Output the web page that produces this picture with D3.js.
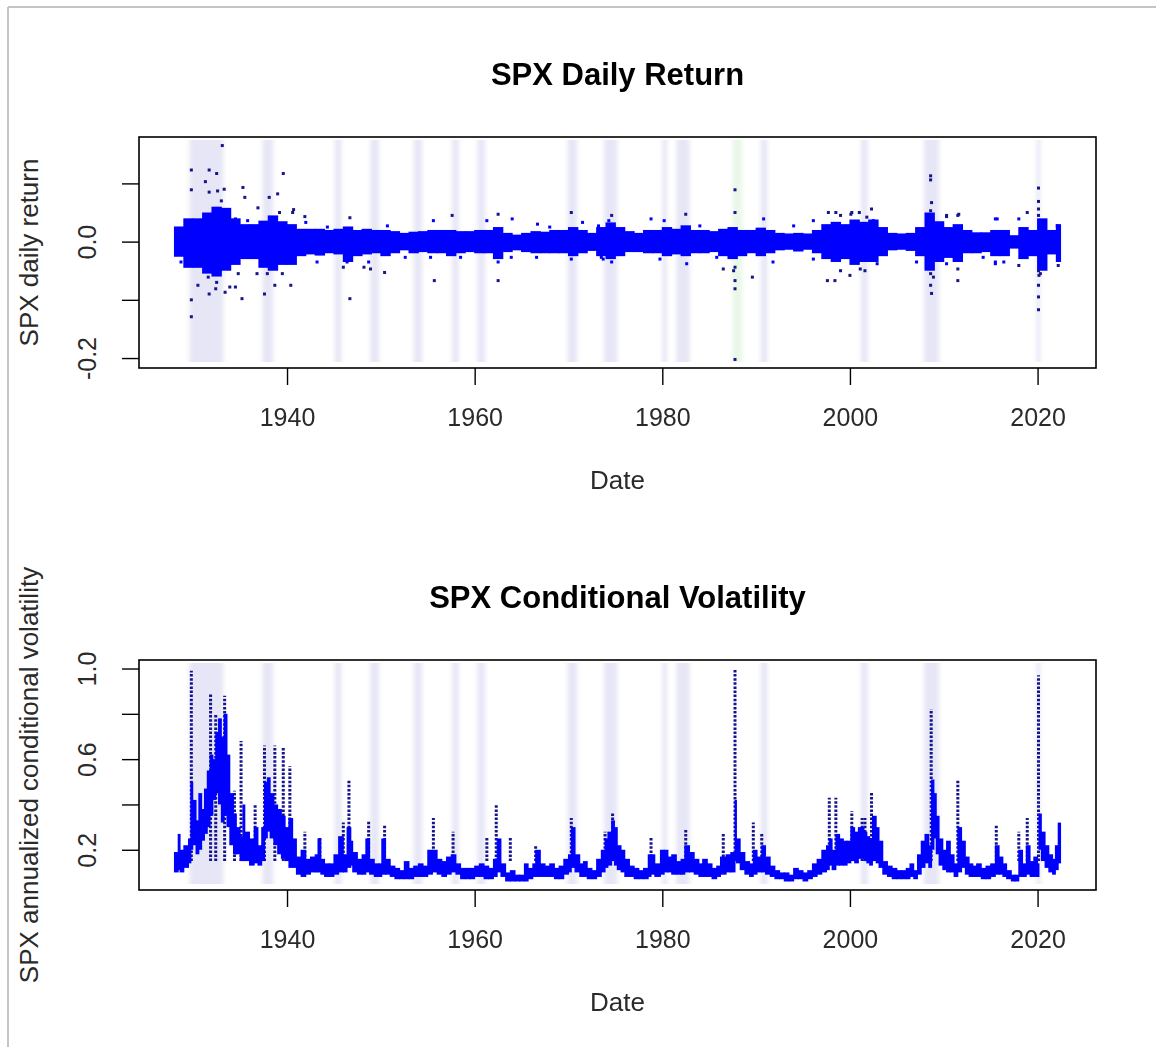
<!DOCTYPE html>
<html><head><meta charset="utf-8">
<script src="https://cdn.jsdelivr.net/npm/d3@7"></script>
<style>
body{margin:0;background:#fff}
svg{display:block}
text{font-family:"Liberation Sans",Arial,Helvetica,sans-serif}
</style>
</head><body>
<svg id="chart" width="1156" height="1047"></svg>
<script>
// ---------- DATA ----------
const recessionStart = [1929.6,1937.4,1945.1,1948.9,1953.5,1957.6,1960.3,1969.9,1973.8,1980.0,1981.5,1990.5,2001.2,2007.9,2019.9];
const recessionEnd   = [1933.2,1938.5,1945.8,1949.8,1954.4,1958.3,1961.1,1970.9,1975.2,1980.5,1982.9,1991.2,2001.9,2009.5,2020.3];
const crashStart = [1987.5];
const crashEnd   = [1988.5];

// daily return: yearly dense core envelope
const retYear = [1928,1929,1930,1931,1932,1933,1934,1935,1936,1937,1938,1939,1940,1941,1942,1943,1944,1945,1946,1947,1948,1949,1950,1951,1952,1953,1954,1955,1956,1957,1958,1959,1960,1961,1962,1963,1964,1965,1966,1967,1968,1969,1970,1971,1972,1973,1974,1975,1976,1977,1978,1979,1980,1981,1982,1983,1984,1985,1986,1987,1988,1989,1990,1991,1992,1993,1994,1995,1996,1997,1998,1999,2000,2001,2002,2003,2004,2005,2006,2007,2008,2009,2010,2011,2012,2013,2014,2015,2016,2017,2018,2019,2020,2021,2022];
const retHigh = [0.026,0.040,0.040,0.050,0.060,0.058,0.040,0.030,0.030,0.036,0.045,0.035,0.030,0.022,0.022,0.022,0.020,0.022,0.026,0.020,0.022,0.020,0.020,0.018,0.015,0.017,0.018,0.020,0.020,0.020,0.018,0.018,0.020,0.020,0.025,0.015,0.012,0.015,0.018,0.017,0.020,0.020,0.025,0.020,0.015,0.025,0.033,0.025,0.018,0.015,0.020,0.020,0.025,0.022,0.028,0.020,0.020,0.018,0.022,0.025,0.020,0.020,0.024,0.020,0.015,0.014,0.015,0.014,0.020,0.030,0.034,0.030,0.038,0.034,0.038,0.025,0.015,0.014,0.015,0.025,0.050,0.035,0.025,0.030,0.020,0.016,0.016,0.020,0.020,0.011,0.025,0.020,0.040,0.020,0.030];
const retLow  = [-0.026,-0.045,-0.045,-0.055,-0.060,-0.050,-0.040,-0.030,-0.030,-0.045,-0.050,-0.040,-0.040,-0.025,-0.022,-0.024,-0.020,-0.022,-0.035,-0.025,-0.022,-0.020,-0.025,-0.020,-0.015,-0.020,-0.018,-0.020,-0.020,-0.025,-0.020,-0.018,-0.020,-0.020,-0.030,-0.018,-0.015,-0.018,-0.020,-0.020,-0.020,-0.020,-0.025,-0.020,-0.016,-0.025,-0.030,-0.025,-0.018,-0.018,-0.020,-0.020,-0.025,-0.022,-0.025,-0.020,-0.020,-0.018,-0.025,-0.030,-0.025,-0.020,-0.025,-0.020,-0.015,-0.014,-0.017,-0.014,-0.020,-0.030,-0.035,-0.030,-0.040,-0.035,-0.035,-0.025,-0.015,-0.014,-0.016,-0.025,-0.050,-0.035,-0.028,-0.035,-0.020,-0.020,-0.018,-0.025,-0.025,-0.012,-0.030,-0.025,-0.050,-0.022,-0.035];
const retEnd = 2022.45;

// daily return: isolated extreme days
const outYear = [1929.8,1929.8,1931.7,1932.5,1933.1,1931.3,1931.7,1932.6,1933.3,1933.0,1935.3,1935.5,1939.6,1938.1,1939.0,1936.9,1940.7,1941.9,1929.8,1929.8,1930.5,1931.7,1932.5,1933.4,1934.5,1935.2,1937.6,1938.7,1940.4,1946.7,1946.0,1948.2,1948.9,1950.4,1955.7,1962.5,1962.5,1957.6,1970.3,1971.5,1955.6,1964.0,1974.6,1974.6,1978.8,1980.2,1982.5,1982.6,1979.75,1987.75,1987.75,1987.75,1987.75,1987.75,1987.75,1986.5,1989.6,1990.8,1991.8,1997.7,1998.5,2000.1,2001.0,2002.3,1997.6,1998.4,2000.0,2001.6,2008.6,2008.6,2008.7,2008.6,2008.6,2008.6,2008.7,2010.3,2011.5,2011.5,2011.5,2015.5,2018.0,2015.5,2018.9,2020.1,2020.1,2020.1,2020.1,2020.1,2020.15,2020.1,2020.1,2020.1,2007.1,1996.1,
  1934.5,1935.8,1939.2,1940.6,1942.0,1944.3,1946.7,1950.7,1961.3,1966.7,1968.0,1973.2,1974.3,1928.7,1931.6,1932.4,1933.9,1934.8,1936.8,1937.9,1939.5,1943.2,1946.4,1948.7,1952.6,1955.3,1958.5,1962.5,1963.9,1966.6,1970.3,1973.5,
  1984.0,1994.0,1996.1,1999.0,2000.2,2001.8,2002.5,2010.3,2011.6,2015.7,2018.0,2022.1,1973.7,1985.8,1987.6,1999.0,2001.1,2002.9,2008.9,2010.3,2014.2,2015.5,2016.4,2020.3,2022.2];
const outVal  = [0.123,0.089,0.123,0.117,0.165,0.103,0.085,0.087,0.090,0.070,0.093,0.076,0.117,0.076,0.082,0.058,0.055,0.043,-0.100,-0.129,-0.075,-0.090,-0.070,-0.087,-0.078,-0.098,-0.090,-0.075,-0.075,-0.098,-0.044,-0.044,-0.047,-0.053,-0.067,-0.067,0.047,0.045,0.050,0.033,0.036,0.039,0.045,-0.035,0.039,0.036,0.047,-0.038,-0.030,0.089,0.050,-0.044,-0.067,-0.081,-0.2024,-0.047,-0.061,0.039,-0.035,0.050,0.050,0.047,0.050,0.056,-0.067,-0.067,-0.058,-0.050,0.113,0.106,0.067,0.053,-0.055,-0.075,-0.089,0.043,0.045,-0.067,-0.047,0.039,-0.041,-0.035,0.050,0.092,0.069,0.056,0.045,-0.050,-0.058,-0.075,-0.095,-0.117,-0.035,-0.030,
  0.039,0.036,0.050,0.050,0.033,0.025,0.041,0.027,0.036,0.030,0.025,0.027,0.036,-0.035,-0.061,-0.081,-0.078,-0.055,-0.055,-0.055,-0.055,-0.035,-0.035,-0.035,-0.027,-0.027,-0.027,-0.035,-0.027,-0.027,-0.030,-0.027,
  0.027,0.027,0.036,0.045,0.050,0.042,0.036,0.045,0.047,0.039,0.039,0.027,-0.030,-0.027,-0.050,-0.050,-0.047,-0.038,-0.061,-0.038,-0.027,-0.038,-0.035,-0.055,-0.041];

// conditional volatility: envelope segments [start year, low, high]
const volYear = [1928.0,1928.4,1928.6,1929.0,1929.5,1929.75,1929.95,1930.3,1930.6,1930.9,1931.2,1931.5,1931.8,1932.1,1932.4,1932.7,1933.0,1933.3,1933.6,1933.9,1934.3,1934.6,1935.0,1935.3,1935.5,1936.0,1936.5,1936.9,1937.3,1937.6,1937.9,1938.2,1938.6,1939.0,1939.4,1939.8,1940.2,1940.6,1941.0,1941.5,1942.0,1942.5,1943.0,1943.3,1943.6,1944.0,1944.5,1945.0,1945.5,1946.0,1946.4,1946.8,1947.0,1947.5,1948.0,1948.4,1948.8,1949.3,1949.8,1950.1,1950.5,1951.0,1951.5,1952.0,1952.5,1953.0,1953.5,1954.0,1954.5,1955.0,1955.5,1956.0,1956.5,1957.0,1957.5,1958.0,1958.5,1959.0,1959.5,1960.0,1960.5,1961.0,1961.5,1962.0,1962.4,1962.8,1963.3,1963.8,1964.3,1964.8,1965.3,1965.7,1966.2,1966.5,1967.0,1967.5,1968.0,1968.5,1969.0,1969.5,1970.0,1970.3,1970.7,1971.2,1971.6,1972.0,1972.5,1973.0,1973.5,1973.9,1974.2,1974.6,1974.9,1975.2,1975.6,1976.0,1976.5,1977.0,1977.5,1978.0,1978.5,1978.8,1979.2,1979.8,1980.2,1980.6,1981.0,1981.5,1982.0,1982.4,1982.9,1983.4,1983.9,1984.3,1984.8,1985.3,1985.8,1986.2,1986.8,1987.3,1987.75,1987.9,1988.3,1988.8,1989.3,1989.7,1990.1,1990.6,1991.0,1991.5,1992.0,1992.5,1993.0,1993.5,1994.0,1994.5,1995.0,1995.5,1996.0,1996.5,1997.0,1997.5,1997.8,1998.1,1998.5,1998.9,1999.3,1999.7,2000.1,2000.5,2000.9,2001.5,2001.8,2002.1,2002.4,2002.8,2003.1,2003.5,2004.0,2004.5,2005.0,2005.5,2006.0,2006.4,2006.8,2007.2,2007.6,2008.0,2008.4,2008.7,2008.95,2009.2,2009.5,2009.9,2010.3,2010.7,2011.1,2011.5,2011.9,2012.3,2012.7,2013.1,2013.5,2014.0,2014.5,2015.0,2015.5,2015.9,2016.3,2016.7,2017.2,2017.6,2018.0,2018.4,2018.8,2019.2,2019.6,2020.0,2020.15,2020.4,2020.8,2021.2,2021.6,2021.9,2022.2];
const volLow  = [0.10,0.11,0.10,0.12,0.14,0.20,0.22,0.18,0.20,0.24,0.27,0.30,0.35,0.42,0.45,0.40,0.32,0.35,0.30,0.22,0.18,0.18,0.15,0.15,0.15,0.13,0.14,0.13,0.15,0.25,0.28,0.25,0.22,0.18,0.16,0.15,0.12,0.12,0.09,0.08,0.09,0.10,0.10,0.10,0.09,0.08,0.08,0.09,0.10,0.10,0.12,0.13,0.10,0.09,0.09,0.10,0.09,0.08,0.08,0.09,0.09,0.08,0.07,0.07,0.07,0.07,0.08,0.08,0.08,0.09,0.10,0.09,0.08,0.09,0.10,0.09,0.07,0.07,0.07,0.08,0.08,0.07,0.07,0.08,0.10,0.08,0.06,0.06,0.06,0.06,0.06,0.07,0.08,0.08,0.08,0.08,0.08,0.07,0.07,0.09,0.10,0.12,0.10,0.08,0.08,0.07,0.07,0.08,0.10,0.12,0.13,0.15,0.13,0.11,0.10,0.08,0.08,0.07,0.07,0.07,0.08,0.09,0.08,0.09,0.10,0.10,0.09,0.09,0.09,0.10,0.10,0.09,0.08,0.08,0.08,0.07,0.08,0.09,0.10,0.10,0.15,0.14,0.11,0.09,0.08,0.09,0.10,0.10,0.09,0.08,0.07,0.07,0.06,0.06,0.07,0.07,0.06,0.07,0.08,0.09,0.10,0.11,0.13,0.11,0.13,0.13,0.13,0.14,0.15,0.14,0.16,0.15,0.14,0.13,0.15,0.14,0.12,0.09,0.08,0.07,0.07,0.07,0.07,0.08,0.07,0.09,0.12,0.14,0.12,0.20,0.25,0.18,0.13,0.11,0.10,0.10,0.08,0.10,0.12,0.09,0.08,0.08,0.08,0.07,0.07,0.08,0.09,0.09,0.08,0.07,0.06,0.06,0.08,0.08,0.09,0.08,0.08,0.08,0.20,0.15,0.12,0.10,0.09,0.11,0.14];
const volHigh = [0.19,0.27,0.20,0.22,0.25,0.50,0.42,0.33,0.45,0.38,0.47,0.55,0.62,0.60,0.72,0.78,0.70,0.80,0.62,0.45,0.36,0.30,0.26,0.40,0.28,0.25,0.30,0.22,0.30,0.50,0.52,0.45,0.40,0.38,0.35,0.30,0.34,0.25,0.17,0.20,0.16,0.17,0.18,0.25,0.16,0.14,0.14,0.18,0.26,0.18,0.30,0.24,0.19,0.16,0.18,0.25,0.16,0.14,0.14,0.25,0.16,0.13,0.12,0.11,0.15,0.12,0.13,0.14,0.13,0.20,0.20,0.16,0.15,0.17,0.18,0.14,0.12,0.12,0.12,0.13,0.14,0.13,0.12,0.16,0.25,0.14,0.10,0.11,0.09,0.09,0.14,0.12,0.14,0.20,0.14,0.13,0.14,0.12,0.13,0.16,0.18,0.30,0.18,0.14,0.15,0.12,0.11,0.16,0.20,0.25,0.28,0.33,0.30,0.22,0.20,0.16,0.13,0.12,0.11,0.12,0.18,0.18,0.14,0.20,0.20,0.17,0.18,0.15,0.16,0.22,0.19,0.16,0.14,0.16,0.14,0.12,0.13,0.17,0.18,0.19,0.42,0.25,0.19,0.15,0.14,0.20,0.17,0.22,0.17,0.13,0.11,0.10,0.10,0.09,0.12,0.11,0.10,0.11,0.14,0.16,0.20,0.22,0.25,0.20,0.27,0.25,0.24,0.24,0.30,0.28,0.30,0.28,0.26,0.25,0.35,0.30,0.24,0.15,0.13,0.12,0.11,0.11,0.12,0.14,0.11,0.18,0.24,0.27,0.22,0.51,0.45,0.35,0.25,0.20,0.24,0.18,0.14,0.30,0.24,0.17,0.14,0.13,0.14,0.12,0.13,0.14,0.22,0.17,0.14,0.11,0.09,0.09,0.20,0.14,0.22,0.15,0.17,0.14,0.36,0.28,0.22,0.18,0.16,0.22,0.32];
const volEnd = 2022.45;

// conditional volatility: short-lived spikes [year, peak]
const spikeYear = [1929.8,1931.85,1932.4,1933.35,1934.4,1935.1,1936.6,1937.6,1938.7,1939.6,1940.3,1941.9,1943.5,1946.0,1946.6,1948.7,1950.4,1955.6,1957.7,1961.3,1962.3,1963.8,1966.5,1970.3,1973.9,1974.7,1978.8,1982.5,1986.5,1987.75,1989.7,1990.6,1997.8,1998.5,2000.2,2001.3,2001.6,2002.3,2008.66,2011.5,2015.6,2018.0,2018.9,2020.1];
const spikeTop  = [0.99,0.89,0.80,0.88,0.46,0.68,0.40,0.66,0.66,0.65,0.57,0.28,0.255,0.32,0.51,0.33,0.31,0.34,0.28,0.255,0.40,0.255,0.22,0.34,0.28,0.36,0.255,0.29,0.27,1.00,0.32,0.27,0.43,0.43,0.37,0.34,0.34,0.45,0.82,0.51,0.31,0.28,0.34,0.97];

const xTicks = [1940,1960,1980,2000,2020];
const retTicks = [-0.2,-0.1,0.0,0.1];
const retTickLabels = ["-0.2","","0.0",""];
const volTicks = [0.2,0.4,0.6,0.8,1.0];
const volTickLabels = ["0.2","","0.6","","1.0"];

// ---------- DRAW ----------
const svg = d3.select("#chart");
const FONT = 25;
const L = 139, R = 1096;
const pad4 = (a,b) => { const r = b - a; return [a - 0.04*r, b + 0.04*r]; };

// outer frame
svg.append("line").attr("x1",8).attr("x2",1156).attr("y1",7).attr("y2",7).attr("stroke","#c4c4c4").attr("stroke-width",2);
svg.append("line").attr("x1",8).attr("x2",8).attr("y1",7).attr("y2",1047).attr("stroke","#c4c4c4").attr("stroke-width",2);

const defs = svg.append("defs");
defs.append("filter").attr("id","soft").attr("x","-50%").attr("width","200%")
  .append("feGaussianBlur").attr("stdDeviation","2.2 0");

const x = d3.scaleLinear().domain(pad4(1928.0, retEnd)).range([L, R]);

function panel(top, bottom, title, titleY, yLabel, yScale, yTicks, yTickLabels, drawData, showCrash) {
  const g = svg.append("g");
  const clipId = "clip" + top;
  defs.append("clipPath").attr("id", clipId).append("rect")
    .attr("x", L).attr("y", top).attr("width", R - L).attr("height", bottom - top);
  const inner = g.append("g").attr("clip-path", `url(#${clipId})`);
  const bands = inner.append("g").attr("filter","url(#soft)");
  recessionStart.forEach((s,i) => {
    bands.append("rect").attr("x", x(s)).attr("width", x(recessionEnd[i]) - x(s))
      .attr("y", top + 3).attr("height", bottom - top - 9).attr("fill", "#e2e2f5").attr("opacity", 0.85);
  });
  if (showCrash) crashStart.forEach((s,i) => {
    bands.append("rect").attr("x", x(s)).attr("width", x(crashEnd[i]) - x(s))
      .attr("y", top + 3).attr("height", bottom - top - 9).attr("fill", "#e6f6e4").attr("opacity", 0.9);
  });
  drawData(inner);
  // box
  g.append("rect").attr("x", L).attr("y", top).attr("width", R - L).attr("height", bottom - top)
    .attr("fill","none").attr("stroke","#000").attr("stroke-width",1.6);
  // x axis
  const xa = g.append("g").attr("transform", `translate(0,${bottom})`)
    .call(d3.axisBottom(x).tickValues(xTicks).tickFormat(d3.format("d")).tickSize(17).tickPadding(23));
  xa.select(".domain").remove();
  xa.selectAll("line").attr("stroke","#000").attr("stroke-width",1.4);
  xa.selectAll("text").attr("font-size", FONT).attr("fill","#2a2a2a").attr("font-family",null);
  // y axis
  const ya = g.append("g").attr("transform", `translate(${L},0)`)
    .call(d3.axisLeft(yScale).tickValues(yTicks).tickFormat((d,i) => yTickLabels[i]).tickSize(17).tickPadding(0));
  ya.select(".domain").remove();
  ya.selectAll("line").attr("stroke","#000").attr("stroke-width",1.4);
  ya.selectAll("text").attr("font-size", FONT).attr("fill","#2a2a2a").attr("font-family",null)
    .attr("text-anchor","middle").attr("dy",null)
    .attr("x", null).attr("transform", "translate(-43,0) rotate(-90)");
  // titles
  svg.append("text").attr("x", (L + R) / 2).attr("y", titleY).attr("text-anchor","middle")
    .attr("font-size", 31).attr("font-weight","bold").attr("fill","#000").text(title);
  svg.append("text").attr("x", (L + R) / 2).attr("y", bottom + 121).attr("text-anchor","middle")
    .attr("font-size", 26).attr("fill","#2a2a2a").text("Date");
  svg.append("text").attr("transform", `translate(38,${(top + bottom) / 2}) rotate(-90)`)
    .attr("text-anchor","middle").attr("font-size", 26).attr("fill","#2a2a2a").text(yLabel);
}

// top panel
const yRet = d3.scaleLinear().domain(pad4(d3.min(outVal), d3.max(outVal))).range([368, 137]);
panel(137, 368, "SPX Daily Return", 85, "SPX daily return", yRet, retTicks, retTickLabels, g => {
  g.append("g").selectAll("rect").data(retYear).join("rect")
    .attr("x", (d) => x(d) - 0.5)
    .attr("width", (d,i) => x(i < retYear.length - 1 ? retYear[i+1] : retEnd) - x(d) + 1)
    .attr("y", (d,i) => yRet(retHigh[i]))
    .attr("height", (d,i) => yRet(retLow[i]) - yRet(retHigh[i]))
    .attr("fill", "#0000ff");
  g.append("g").selectAll("rect").data(outYear).join("rect")
    .attr("x", d => x(d) - 1.5).attr("y", (d,i) => yRet(outVal[i]) - 1.5)
    .attr("width", 3).attr("height", 3)
    .attr("fill", (d,i) => Math.abs(outVal[i]) > 0.04 ? "#16168a" : "#0000ff");
}, true);

// bottom panel
const yVol = d3.scaleLinear().domain(pad4(d3.min(volLow), d3.max(spikeTop))).range([890, 660]);
panel(660, 890, "SPX Conditional Volatility", 608, "SPX annualized conditional volatility", yVol, volTicks, volTickLabels, g => {
  g.append("g").selectAll("line").data(spikeYear).join("line")
    .attr("x1", d => x(d)).attr("x2", d => x(d))
    .attr("y1", yVol(0.15)).attr("y2", (d,i) => yVol(spikeTop[i]))
    .attr("stroke", "#14148c").attr("stroke-width", 3).attr("stroke-dasharray", "2.5,1.6");
  g.append("g").selectAll("rect").data(volYear).join("rect")
    .attr("x", d => x(d) - 0.5)
    .attr("width", (d,i) => x(i < volYear.length - 1 ? volYear[i+1] : volEnd) - x(d) + 1)
    .attr("y", (d,i) => yVol(volHigh[i]))
    .attr("height", (d,i) => yVol(volLow[i]) - yVol(volHigh[i]))
    .attr("fill", "#0000ff");
}, false);
</script>
</body></html>
